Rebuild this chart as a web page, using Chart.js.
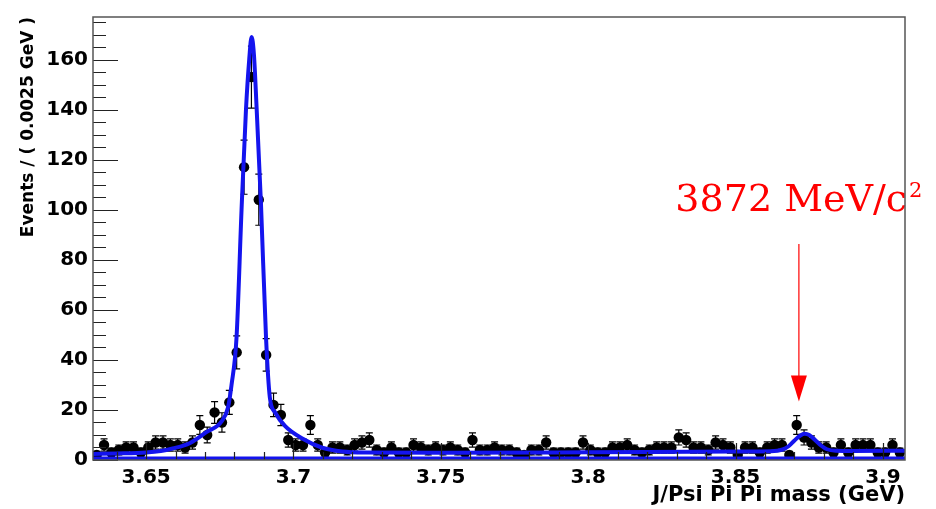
<!DOCTYPE html>
<html>
<head>
<meta charset="utf-8">
<script src="https://cdn.jsdelivr.net/npm/chart.js@4.4.0/dist/chart.umd.min.js"></script>
<style>
  html, body { margin: 0; padding: 0; background: #fff; }
</style>
</head>
<body>
<canvas id="grafico-massa" width="936" height="509"></canvas>
<script>
// Bin centres (GeV), bin width 0.0025
const massaBins = [
    3.63325, 3.63575, 3.63825, 3.64075, 3.64325, 3.64575, 3.64825, 3.65075, 3.65325, 3.65575,
    3.65825, 3.66075, 3.66325, 3.66575, 3.66825, 3.67075, 3.67325, 3.67575, 3.67825, 3.68075,
    3.68325, 3.68575, 3.68825, 3.69075, 3.69325, 3.69575, 3.69825, 3.70075, 3.70325, 3.70575,
    3.70825, 3.71075, 3.71325, 3.71575, 3.71825, 3.72075, 3.72325, 3.72575, 3.72825, 3.73075,
    3.73325, 3.73575, 3.73825, 3.74075, 3.74325, 3.74575, 3.74825, 3.75075, 3.75325, 3.75575,
    3.75825, 3.76075, 3.76325, 3.76575, 3.76825, 3.77075, 3.77325, 3.77575, 3.77825, 3.78075,
    3.78325, 3.78575, 3.78825, 3.79075, 3.79325, 3.79575, 3.79825, 3.80075, 3.80325, 3.80575,
    3.80825, 3.81075, 3.81325, 3.81575, 3.81825, 3.82075, 3.82325, 3.82575, 3.82825, 3.83075,
    3.83325, 3.83575, 3.83825, 3.84075, 3.84325, 3.84575, 3.84825, 3.85075, 3.85325, 3.85575,
    3.85825, 3.86075, 3.86325, 3.86575, 3.86825, 3.87075, 3.87325, 3.87575, 3.87825, 3.88075,
    3.88325, 3.88575, 3.88825, 3.89075, 3.89325, 3.89575, 3.89825, 3.90075, 3.90325, 3.90575
];

// Events per bin
const eventos = [
    2, 6, 3, 4, 5, 5, 3, 5, 7, 7,
    6, 6, 5, 7, 14, 10, 19, 15, 23, 43,
    117, 153, 104, 42, 22, 18, 8, 6, 6, 14,
    6, 3, 5, 5, 4, 6, 7, 8, 4, 3,
    5, 3, 3, 6, 5, 4, 5, 4, 5, 4,
    3, 8, 4, 4, 5, 4, 4, 3, 2, 4,
    4, 7, 3, 3, 3, 3, 7, 4, 3, 3,
    5, 5, 6, 4, 3, 4, 5, 5, 5, 9,
    8, 5, 5, 4, 7, 6, 5, 2, 5, 5,
    3, 5, 6, 6, 2, 14, 9, 7, 5, 5,
    3, 6, 3, 6, 6, 6, 3, 3, 6, 3
];

// Fit curve
const ajusteMassa = [3.632, 3.640, 3.650, 3.655, 3.659, 3.6648, 3.6706, 3.6757, 3.6778, 3.6790,
    3.6807, 3.6824, 3.6839, 3.6850, 3.6858, 3.6866, 3.6875, 3.6890, 3.6907, 3.6920,
    3.6938, 3.6972, 3.7030, 3.7098, 3.7166, 3.7245, 3.750, 3.800, 3.850, 3.862,
    3.866, 3.868, 3.870, 3.872, 3.8735, 3.875, 3.877, 3.879, 3.881, 3.884, 3.890, 3.9075];
const ajusteEventos = [2.4, 2.6, 3.0, 3.6, 4.6, 6.7, 11.2, 15.5, 21, 30,
    49, 100, 140, 160, 169, 162, 141, 102, 49, 25,
    19, 13.5, 8.6, 4.9, 3.4, 3.0, 2.9, 3.1, 3.4, 3.5,
    4.2, 5.5, 7.8, 9.8, 10.5, 10, 8, 5.8, 4.3, 3.7, 3.6, 3.7];

// Background component
const fundoMassa = [3.632, 3.9075];
const fundoEventos = [0.6, 0.6];

// Axis ticks
const xTicks = [3.65, 3.7, 3.75, 3.8, 3.85, 3.9];
const xTickLabels = ["3.65", "3.7", "3.75", "3.8", "3.85", "3.9"];
const yTicks = [0, 20, 40, 60, 80, 100, 120, 140, 160];

// Annotation
const anotacaoTexto = "3872 MeV/c";
const anotacaoExpoente = "2";
const anotacaoMassa = 3.8715;

const azul = "#1414ee";

// Error bars (sqrt N), drawn under the points
const pluginErros = {
    id: "erros",
    beforeDatasetsDraw(chart) {
        const { ctx, scales: { x, y } } = chart;
        ctx.save();
        ctx.strokeStyle = "#000";
        ctx.lineWidth = 1.2;
        massaBins.forEach((m, i) => {
            const n = eventos[i];
            const e = Math.sqrt(n);
            const px = x.getPixelForValue(m);
            const top = y.getPixelForValue(n + e);
            const bot = y.getPixelForValue(Math.max(n - e, 0));
            ctx.beginPath();
            ctx.moveTo(px, top); ctx.lineTo(px, bot);
            ctx.moveTo(px - 3.5, top); ctx.lineTo(px + 3.5, top);
            ctx.moveTo(px - 3.5, bot); ctx.lineTo(px + 3.5, bot);
            ctx.stroke();
        });
        ctx.restore();
    }
};

// Red label + arrow, inward ticks and frame
const pluginMoldura = {
    id: "moldura",
    afterDatasetsDraw(chart) {
        const { ctx, chartArea: a, scales: { x, y } } = chart;
        ctx.save();

        // annotation
        const ax = x.getPixelForValue(anotacaoMassa);
        ctx.fillStyle = "#ff0000";
        ctx.strokeStyle = "#ff0000";
        ctx.font = "38px 'DejaVu Serif'";
        const w1 = ctx.measureText(anotacaoTexto).width;
        ctx.font = "21px 'DejaVu Serif'";
        const w2 = ctx.measureText(anotacaoExpoente).width;
        const start = ax - (w1 + w2 + 2) / 2;
        const base = y.getPixelForValue(99.6);
        ctx.textBaseline = "alphabetic";
        ctx.textAlign = "left";
        ctx.font = "38px 'DejaVu Serif'";
        ctx.fillText(anotacaoTexto, start, base);
        ctx.font = "21px 'DejaVu Serif'";
        ctx.fillText(anotacaoExpoente, start + w1 + 2, base - 14);

        const yTop = y.getPixelForValue(86.3);
        const yTip = y.getPixelForValue(23.4);
        ctx.lineWidth = 1.2;
        ctx.beginPath();
        ctx.moveTo(ax, yTop);
        ctx.lineTo(ax, yTip - 20);
        ctx.stroke();
        ctx.beginPath();
        ctx.moveTo(ax - 8, yTip - 26);
        ctx.lineTo(ax + 8, yTip - 26);
        ctx.lineTo(ax, yTip);
        ctx.closePath();
        ctx.fill();

        // inward ticks
        ctx.strokeStyle = "#222";
        ctx.lineWidth = 1.2;
        ctx.beginPath();
        for (let v = 0; v <= y.max; v += 5) {
            const py = Math.round(y.getPixelForValue(v)) + 0.5;
            const len = v % 20 === 0 ? 25 : 13;
            ctx.moveTo(a.left, py);
            ctx.lineTo(a.left + len, py);
        }
        for (let i = 364; i <= 390; i++) {
            const px = Math.round(x.getPixelForValue(i / 100)) + 0.5;
            const len = i % 5 === 0 ? 17 : 8;
            ctx.moveTo(px, a.bottom);
            ctx.lineTo(px, a.bottom - len);
        }
        ctx.stroke();

        // frame
        ctx.strokeStyle = "#555";
        ctx.lineWidth = 1.5;
        ctx.strokeRect(a.left, a.top, a.right - a.left, a.bottom - a.top);
        ctx.restore();
    }
};

const dadosMassa = {
    datasets: [{
        label: "Ajuste",
        data: ajusteMassa.map((m, i) => ({ x: m, y: ajusteEventos[i] })),
        showLine: true,
        borderColor: azul,
        borderWidth: 4,
        pointRadius: 0,
        cubicInterpolationMode: "monotone",
        order: 0
    },
    {
        label: "Fundo",
        data: fundoMassa.map((m, i) => ({ x: m, y: fundoEventos[i] })),
        showLine: true,
        borderColor: azul,
        borderWidth: 4,
        pointRadius: 0,
        order: 1
    },
    {
        label: "Dados",
        data: massaBins.map((m, i) => ({ x: m, y: eventos[i] })),
        showLine: false,
        pointRadius: 5.2,
        pointBorderWidth: 0,
        pointBackgroundColor: "#000",
        order: 2
    }]
};

const configMassa = {
    type: "scatter",
    data: dadosMassa,
    options: {
        responsive: false,
        animation: false,
        layout: { padding: { left: 0, right: 31, top: 7, bottom: 0 } },
        plugins: {
            legend: { display: false },
            tooltip: { enabled: false }
        },
        scales: {
            x: {
                type: "linear",
                min: 3.632,
                max: 3.9075,
                afterBuildTicks: (s) => { s.ticks = xTicks.map(v => ({ value: v })); },
                afterFit: (s) => { s.height = 49; },
                grid: { display: false, drawTicks: false },
                border: { display: false },
                ticks: {
                    padding: 6,
                    color: "#000",
                    font: { family: "DejaVu Sans", weight: "bold", size: 20 },
                    callback: (v) => xTickLabels[xTicks.indexOf(v)]
                },
                title: {
                    display: true,
                    text: "J/Psi Pi Pi mass (GeV)",
                    align: "end",
                    color: "#000",
                    padding: { top: 0, bottom: 1 },
                    font: { family: "DejaVu Sans", weight: "bold", size: 21 }
                }
            },
            y: {
                min: 0,
                max: 177,
                afterBuildTicks: (s) => { s.ticks = yTicks.map(v => ({ value: v })); },
                afterFit: (s) => { s.width = 93; },
                grid: { display: false, drawTicks: false },
                border: { display: false },
                ticks: {
                    padding: 5,
                    color: "#000",
                    font: { family: "DejaVu Sans", weight: "bold", size: 20 }
                },
                title: {
                    display: true,
                    text: "Events / ( 0.0025 GeV )",
                    align: "end",
                    color: "#000",
                    padding: { top: 18, bottom: 0 },
                    font: { family: "DejaVu Sans", weight: "bold", size: 17 }
                }
            }
        }
    },
    plugins: [pluginErros, pluginMoldura]
};

let graficoMassa = new Chart(
    document.getElementById("grafico-massa"),
    configMassa
);
</script>
</body>
</html>
